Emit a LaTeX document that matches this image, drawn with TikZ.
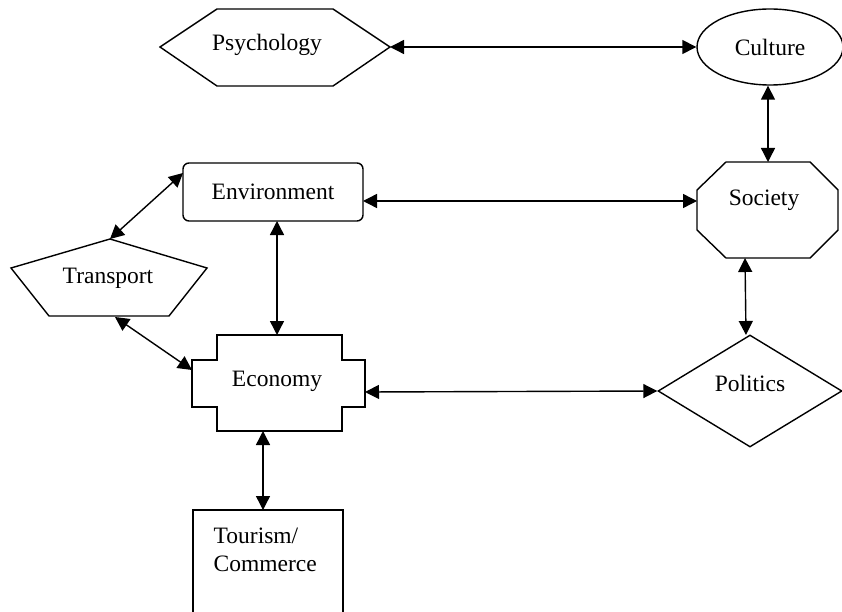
\documentclass[tikz,border=0pt]{standalone}
\usepackage{fontspec}
\setmainfont{Liberation Serif}
\usetikzlibrary{arrows.meta,shapes.geometric}

\begin{document}
\begin{tikzpicture}[x=1pt,y=-1pt,line width=1.4pt,
    font=\fontsize{23.5}{28}\selectfont,
    link/.style={{Triangle[length=14pt,width=14pt]}-{Triangle[length=14pt,width=14pt]}}]
  \useasboundingbox (0,0) rectangle (842,612);
  \draw (160,47) -- (217,9) -- (333,9) -- (390,47) -- (333,86) -- (217,86) -- cycle;
  \node (psy) at (267,45) {Psychology};
  \coordinate (psyR) at (390,47);
  \node[draw,ellipse,minimum width=146pt,minimum height=76pt,inner sep=0pt] (cul) at (770,47) {Culture};
  \draw (726,162) -- (810,162) -- (838,190) -- (838,230) -- (810,258) -- (726,258) -- (697,230) -- (697,190) -- cycle;
  \node (soc) at (764,200) {Society};
  \coordinate (socT) at (768,162); \coordinate (socL) at (697,201); \coordinate (socB) at (745,258);
  \node[draw,rounded corners=6pt,minimum width=180pt,minimum height=58pt,inner sep=0pt] (env) at (273,192) {Environment};
  \coordinate (envR) at (363,201); \coordinate (envB) at (277,221); \coordinate (envL) at (183,173);
  \draw (110,239) -- (207,268) -- (169,316) -- (49,316) -- (11,268) -- cycle;
  \node (tra) at (108,278) {Transport};
  \coordinate (traT) at (110,239); \coordinate (traB) at (115,317);
  \draw (217,335) -- (342,335) -- (342,360) -- (365,360) -- (365,407) -- (342,407) -- (342,431)
    -- (217,431) -- (217,407) -- (192,407) -- (192,360) -- (217,360) -- cycle;
  \node (eco) at (277,381) {Economy};
  \coordinate (ecoT) at (277,335); \coordinate (ecoL) at (192,370); \coordinate (ecoR) at (365,392); \coordinate (ecoB) at (263,431);
  \node[draw,diamond,minimum width=184pt,minimum height=112pt,inner sep=0pt] (pol) at (750,391) {\raisebox{16pt}{Politics}};
  \coordinate (polT) at (746,335);
  \draw (193,640) |- (343,510) -- (343,640);
  \node[anchor=north west,align=left,inner sep=0pt] (tou) at (213,527) {Tourism/\\Commerce};
  \coordinate (touT) at (263,510);
  \draw[link] (psyR) -- (cul.west);
  \draw[link] (cul.south -| socT) -- (socT);
  \draw[link] (envR) -- (socL);
  \draw[link] (socB) -- (polT);
  \draw[link] (envB) -- (ecoT);
  \draw[link] (traT) -- (envL);
  \draw[link] (traB) -- (ecoL);
  \draw[link] (ecoR) -- (pol.west);
  \draw[link] (ecoB) -- (touT);
\end{tikzpicture}
\end{document}
